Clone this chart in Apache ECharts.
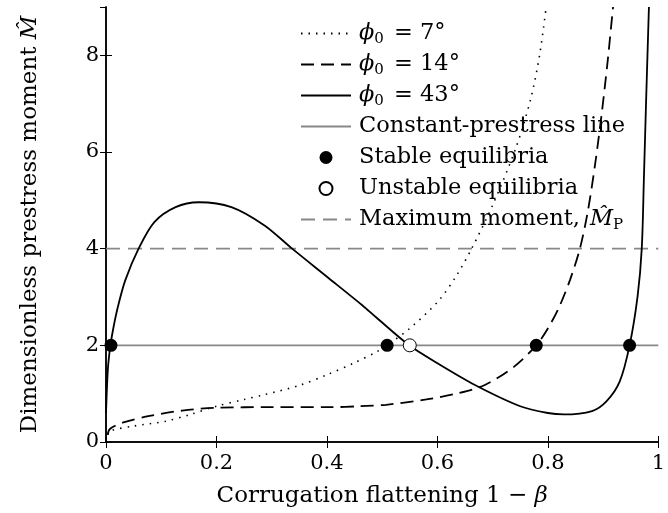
<!DOCTYPE html>
<html>
<head>
<meta charset="utf-8">
<script src="https://cdn.jsdelivr.net/npm/echarts@6/dist/echarts.min.js"></script>
<style>
  html, body { margin: 0; padding: 0; background: #fff; }
  #chart1 { width: 668px; height: 513px; }
</style>
</head>
<body>
<div id="chart1"></div>
<script>
// values
// phi0 = 7 deg (dotted)
const x_phi7 = [0.003, 0.007, 0.05, 0.108, 0.15, 0.2, 0.25, 0.287, 0.35, 0.4, 0.45, 0.489, 0.509, 0.55, 0.602, 0.635, 0.662, 0.7, 0.742, 0.769, 0.785, 0.797];
const y_phi7 = [0.15, 0.23, 0.33, 0.43, 0.56, 0.74, 0.88, 0.98, 1.17, 1.39, 1.64, 1.86, 2.0, 2.35, 2.92, 3.45, 4.0, 4.9, 6.08, 7.1, 8.0, 9.0];
// phi0 = 14 deg (dashed)
const x_phi14 = [0.003, 0.007, 0.03, 0.079, 0.138, 0.2, 0.3, 0.406, 0.46, 0.507, 0.58, 0.638, 0.686, 0.739, 0.779, 0.8, 0.82, 0.84, 0.858, 0.872, 0.885, 0.897, 0.908, 0.918];
const y_phi14 = [0.15, 0.27, 0.4, 0.54, 0.65, 0.71, 0.72, 0.72, 0.74, 0.77, 0.88, 1.01, 1.18, 1.56, 2.0, 2.35, 2.78, 3.35, 4.0, 4.75, 5.7, 6.75, 7.85, 9.0];
// phi0 = 43 deg (solid)
const x_phi43 = [0.0, 0.002, 0.004, 0.008, 0.014, 0.022, 0.035, 0.059, 0.0875, 0.126, 0.168, 0.227, 0.287, 0.337, 0.4, 0.465, 0.489, 0.549, 0.6, 0.668, 0.75, 0.8, 0.829, 0.88, 0.906, 0.93, 0.948, 0.9625, 0.97, 0.974, 0.978, 0.983];
const y_phi43 = [0.6, 1.2, 1.6, 2.0, 2.4, 2.82, 3.35, 4.0, 4.55, 4.86, 4.96, 4.86, 4.48, 4.0, 3.42, 2.82, 2.58, 2.0, 1.63, 1.18, 0.74, 0.6, 0.57, 0.64, 0.84, 1.25, 2.0, 3.02, 4.0, 5.5, 7.1, 9.0];
// horizontal reference lines
const x_const = [0, 1];
const y_const = [2, 2];
const x_max = [0, 1];
const y_max = [4, 4];
// equilibria
const x_stable = [0.009, 0.509, 0.779, 0.948];
const y_stable = [2, 2, 2, 2];
const x_unstable = [0.550];
const y_unstable = [2];

const names = ['ϕ0 = 7°', 'ϕ0 = 14°', 'ϕ0 = 43°', 'Constant-prestress line', 'Stable equilibria', 'Unstable equilibria', 'Maximum moment, MP'];
// every row ends with a subscript token so all rows get the same height
const legendRich = {
    'ϕ0 = 7°': '{i|ϕ}{s|0}{n| = 7°}{s| }',
    'ϕ0 = 14°': '{i|ϕ}{s|0}{n| = 14°}{s| }',
    'ϕ0 = 43°': '{i|ϕ}{s|0}{n| = 43°}{s| }',
    'Constant-prestress line': '{n|Constant-prestress line}{s| }',
    'Stable equilibria': '{n|Stable equilibria}{s| }',
    'Unstable equilibria': '{n|Unstable equilibria}{s| }',
    'Maximum moment, MP': '{n|Maximum moment, }{i|M\u0302}{s|P}'
};

function pairs(xs, ys) {
    let out = [];
    for (let i = 0; i < xs.length; i++) {
        out.push([xs[i], ys[i]]);
    }
    return out;
}

const font = 'DejaVu Serif';
// line series draw a symbol in their legend icon; keep it invisible
const hiddenSymbol = { color: 'rgba(0,0,0,0)', borderColor: 'rgba(0,0,0,0)', borderWidth: 0 };

let dom1 = document.getElementById('chart1');
let Chart1 = echarts.init(dom1, null, { renderer: 'canvas' });

let option1 = {
    animation: false,
    backgroundColor: '#fff',
    grid: {
        left: 106,
        right: 2,
        top: 7,
        bottom: 65
    },
    legend: {
        orient: 'vertical',
        left: 300,
        top: 20,
        padding: 0,
        itemWidth: 50,
        itemHeight: 13,
        itemGap: 4,
        selectedMode: false,
        data: names,
        formatter: function (name) {
            return legendRich[name];
        },
        textStyle: {
            fontFamily: font,
            fontSize: 22.5,
            color: '#000',
            rich: {
                n: { fontFamily: font, fontSize: 22.5, color: '#000', lineHeight: 27, verticalAlign: 'middle', padding: [0, 0, 0, 3] },
                i: { fontFamily: font, fontSize: 22.5, fontStyle: 'italic', color: '#000', lineHeight: 27, verticalAlign: 'middle', padding: [0, 0, 0, 3] },
                s: { fontFamily: font, fontSize: 15, color: '#000', lineHeight: 15, verticalAlign: 'middle', padding: [12, 0, 0, 0] }
            }
        }
    },
    xAxis: [
        {
            type: 'value',
            position: 'bottom',
            min: 0,
            max: 1,
            interval: 0.2,
            name: 'Corrugation flattening 1 − {i|β}',
            nameLocation: 'middle',
            nameGap: 43,
            nameTextStyle: {
                fontFamily: font,
                fontSize: 23,
                color: '#000',
                rich: {
                    i: { fontFamily: font, fontSize: 23, fontStyle: 'italic', color: '#000' }
                }
            },
            axisLine: { show: true, lineStyle: { color: '#000', width: 1.5 } },
            axisTick: { show: true, inside: true, length: 6, lineStyle: { color: '#000', width: 1 } },
            axisLabel: { show: true, margin: 11, fontFamily: font, fontSize: 21, color: '#000' },
            splitLine: { show: false }
        },
        {
            type: 'value',
            position: 'top',
            min: 0,
            max: 1,
            interval: 0.2,
            axisLine: { show: true, lineStyle: { color: '#000', width: 1.5 } },
            axisTick: { show: true, inside: true, length: 6, lineStyle: { color: '#000', width: 1 } },
            axisLabel: { show: false },
            splitLine: { show: false }
        }
    ],
    yAxis: [
        {
            type: 'value',
            position: 'left',
            min: 0,
            max: 9,
            interval: 2,
            name: 'Dimensionless prestress moment {i|M\u0302}',
            nameLocation: 'middle',
            nameGap: 64,
            nameTextStyle: {
                fontFamily: font,
                fontSize: 23,
                color: '#000',
                rich: {
                    i: { fontFamily: font, fontSize: 23, fontStyle: 'italic', color: '#000' }
                }
            },
            axisLine: { show: true, lineStyle: { color: '#000', width: 1.5 } },
            axisTick: { show: true, inside: true, length: 6, lineStyle: { color: '#000', width: 1 } },
            axisLabel: { show: true, margin: 7, fontFamily: font, fontSize: 21, color: '#000', showMaxLabel: false },
            splitLine: { show: false }
        },
        {
            type: 'value',
            position: 'right',
            min: 0,
            max: 9,
            interval: 2,
            axisLine: { show: true, lineStyle: { color: '#000', width: 1.5 } },
            axisTick: { show: true, inside: true, length: 6, lineStyle: { color: '#000', width: 1 } },
            axisLabel: { show: false },
            splitLine: { show: false }
        }
    ],
    series: [
        {
            name: names[0],
            type: 'line',
            symbol: 'circle',
            showSymbol: false,
            smooth: 0.3,
            clip: true,
            itemStyle: hiddenSymbol,
            lineStyle: { color: '#000', width: 1.6, type: [1.5, 6], cap: 'butt' },
            data: pairs(x_phi7, y_phi7),
            z: 3
        },
        {
            name: names[1],
            type: 'line',
            symbol: 'circle',
            showSymbol: false,
            smooth: 0.3,
            clip: true,
            itemStyle: hiddenSymbol,
            lineStyle: { color: '#000', width: 1.8, type: [13, 7] },
            data: pairs(x_phi14, y_phi14),
            z: 3
        },
        {
            name: names[2],
            type: 'line',
            symbol: 'circle',
            showSymbol: false,
            smooth: 0.3,
            clip: true,
            itemStyle: hiddenSymbol,
            lineStyle: { color: '#000', width: 1.8, type: 'solid' },
            data: pairs(x_phi43, y_phi43),
            z: 3
        },
        {
            name: names[3],
            type: 'line',
            symbol: 'circle',
            showSymbol: false,
            itemStyle: hiddenSymbol,
            lineStyle: { color: '#888', width: 1.6, type: 'solid' },
            data: pairs(x_const, y_const),
            z: 2
        },
        {
            name: names[4],
            type: 'scatter',
            symbol: 'circle',
            symbolSize: 13,
            itemStyle: { color: '#000', borderColor: '#000', borderWidth: 0, opacity: 1 },
            data: pairs(x_stable, y_stable),
            z: 5
        },
        {
            name: names[5],
            type: 'scatter',
            symbol: 'circle',
            symbolSize: 13,
            itemStyle: { color: '#fff', borderColor: '#000', borderWidth: 1, opacity: 1 },
            data: pairs(x_unstable, y_unstable),
            z: 5
        },
        {
            name: names[6],
            type: 'line',
            symbol: 'circle',
            showSymbol: false,
            itemStyle: hiddenSymbol,
            lineStyle: { color: '#888', width: 1.8, type: [14, 8] },
            data: pairs(x_max, y_max),
            z: 2
        }
    ]
};

Chart1.setOption(option1);
</script>
</body>
</html>
